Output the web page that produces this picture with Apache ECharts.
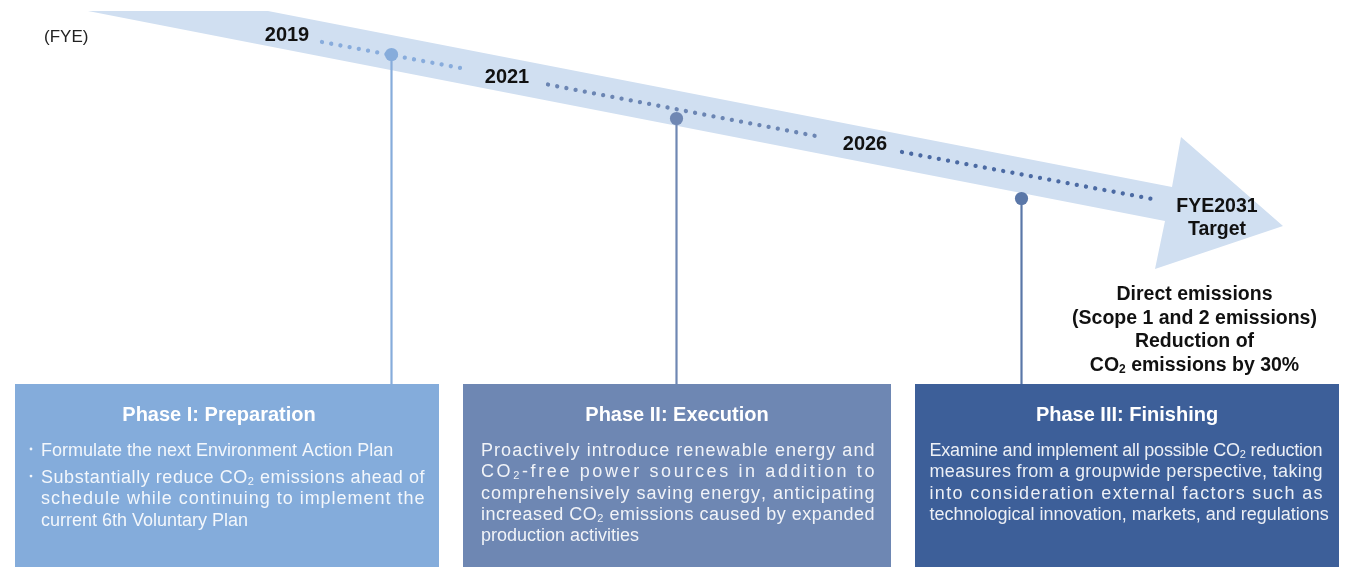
<!DOCTYPE html>
<html>
<head>
<meta charset="utf-8">
<script src="https://cdn.jsdelivr.net/npm/echarts@6/dist/echarts.min.js"></script>
<style>
html,body{margin:0;padding:0;background:#ffffff;}
#chart{width:1346px;height:567px;}
</style>
</head>
<body>
<div id="chart"></div>
<script>
// ---------------- data (texts) ----------------
const fyeLabel = '(FYE)';
const milestoneYears = ['2019', '2021', '2026'];
const targetLabel = ['FYE2031', 'Target'];
const targetNote = ['Direct emissions', '(Scope 1 and 2 emissions)', 'Reduction of', 'CO₂ emissions by 30%'];
const phaseTitles = ['Phase I: Preparation', 'Phase II: Execution', 'Phase III: Finishing'];
// each phase: list of paragraphs, each paragraph a list of lines
const phase1Paragraphs = [
  ['Formulate the next Environment Action Plan'],
  ['Substantially reduce CO₂ emissions ahead of', 'schedule while continuing to implement the', 'current 6th Voluntary Plan']
];
const phase2Paragraphs = [
  ['Proactively introduce renewable energy and', 'CO₂-free power sources in addition to', 'comprehensively saving energy, anticipating', 'increased CO₂ emissions caused by expanded', 'production activities']
];
const phase3Paragraphs = [
  ['Examine and implement all possible CO₂ reduction', 'measures from a groupwide perspective, taking', 'into consideration external factors such as', 'technological innovation, markets, and regulations']
];
const phaseBulleted = [true, false, false];

// ---------------- layout & style ----------------
const W = 1346, H = 567;
const FONT = "'Liberation Sans', Arial, Helvetica, sans-serif";
const layout = {
  arrow: [[88, 11], [268, 11], [1172, 187], [1181, 137], [1283, 226], [1155, 269], [1165, 221]],
  arrowColor: '#d0dff1',
  segments: [[[322, 42], [463, 68.5]], [[548, 84.5], [821, 137]], [[902, 152], [1155, 199.5]]],
  segmentColors: ['#88acdc', '#6b85b3', '#4b6aa3'],
  yearPos: [[287, 35.5], [507, 77.5], [865, 144.5]],
  targetPos: [[1217, 206.5], [1217, 230]],
  notePos: { x: 1194.5, ys: [294.5, 318.5, 342, 366] },
  fyePos: [44, 37],
  markers: [[391.5, 54.5], [676.5, 118.5], [1021.5, 198.5]],
  markerColors: ['#86acdb', '#6f87b3', '#5a77a8'],
  stemBottom: 384,
  boxes: [[15, 384, 424, 200], [463, 384, 428, 200], [915, 384, 424, 200]],
  boxColors: ['#84acdb', '#6e87b3', '#3d5f99'],
  titleCenters: [[219, 415], [677, 415], [1127, 415]],
  bodyLeft: [41, 481, 929.5],
  bodyRight: [424.5, 874.5, 1322.5],
  bodyTop: 451,
  lineH: 21.3,
  paraGap: 5.8,
  bulletX: 31
};

const mctx = document.createElement('canvas').getContext('2d');
function fontStr(size, bold) { return (bold ? 'bold ' : '') + size + 'px ' + FONT; }
function measure(t, f) { mctx.font = f; return mctx.measureText(t).width; }

// one line of text -> graphic elements (handles CO₂ subscript, centering and inter-character justification)
function textLine(api, str, x, y, o) {
  const p = api.coord([x, y]);
  const size = o.size, bold = !!o.bold;
  const mainF = fontStr(size, bold), subF = fontStr(Math.round(size * 0.62), bold);
  const toks = [];
  for (const ch of str) toks.push({ t: ch === '₂' ? '2' : ch, sub: ch === '₂' });
  let runs = [];
  if (o.justify) {
    runs = toks.map(t => ({ t: t.t, sub: t.sub }));
  } else {
    toks.forEach(t => {
      const last = runs[runs.length - 1];
      if (last && last.sub === t.sub) last.t += t.t; else runs.push({ t: t.t, sub: t.sub });
    });
  }
  runs.forEach(r => { r.w = measure(r.t, r.sub ? subF : mainF); });
  const natural = runs.reduce((s, r) => s + r.w, 0);
  let gap = 0;
  if (o.justify && runs.length > 1) {
    const target = api.coord([o.justify, y])[0] - p[0];
    gap = (target - natural) / (runs.length - 1);
  }
  let cx = o.align === 'center' ? p[0] - natural / 2 : p[0];
  const els = [];
  runs.forEach(r => {
    if (r.t.trim() !== '') {
      els.push({
        type: 'text', x: cx, y: p[1] + (r.sub ? size * 0.2 : 0), silent: true,
        style: { text: r.t, font: r.sub ? subF : mainF, fill: o.color,
                 align: 'left', verticalAlign: 'middle', textAlign: 'left', textVerticalAlign: 'middle' }
      });
    }
    cx += r.w + gap;
  });
  return els;
}

const allPhaseParagraphs = [phase1Paragraphs, phase2Paragraphs, phase3Paragraphs];

const chart = echarts.init(document.getElementById('chart'), null, { renderer: 'canvas' });
const option = {
  animation: false,
  tooltip: { show: false },
  grid: { left: 0, right: 0, top: 0, bottom: 0 },
  xAxis: { type: 'value', min: 0, max: W, show: false },
  yAxis: { type: 'value', min: 0, max: H, inverse: true, show: false },
  series: [
    { // arrow band
      type: 'custom', silent: true, data: [[0]], z: 1,
      renderItem: (params, api) => ({
        type: 'polygon',
        shape: { points: layout.arrow.map(pt => api.coord(pt)) },
        style: { fill: layout.arrowColor }
      })
    },
    { // dotted timeline segments following each milestone year
      type: 'custom', silent: true, z: 2,
      data: milestoneYears.map((y, i) => [i]),
      renderItem: (params, api) => {
        const i = params.dataIndex;
        const a = api.coord(layout.segments[i][0]), b = api.coord(layout.segments[i][1]);
        return {
          type: 'line', shape: { x1: a[0], y1: a[1], x2: b[0], y2: b[1] },
          style: { stroke: layout.segmentColors[i], lineWidth: 4.3, lineDash: [0.01, 9.35], lineCap: 'round' }
        };
      }
    },
    { // year labels
      type: 'custom', silent: true, z: 3,
      data: milestoneYears.map((y, i) => [i]),
      renderItem: (params, api) => {
        const i = params.dataIndex;
        const pos = layout.yearPos[i];
        return { type: 'group', children: textLine(api, milestoneYears[i], pos[0], pos[1], { size: 20, bold: true, color: '#111111', align: 'center' }) };
      }
    },
    { // phase stems and markers
      type: 'custom', silent: true, z: 4,
      data: phaseTitles.map((t, i) => [i]),
      renderItem: (params, api) => {
        const i = params.dataIndex;
        const m = api.coord(layout.markers[i]);
        const b = api.coord([layout.markers[i][0], layout.stemBottom]);
        return {
          type: 'group', children: [
            { type: 'line', shape: { x1: m[0], y1: m[1], x2: b[0], y2: b[1] }, style: { stroke: layout.markerColors[i], lineWidth: 2.2 } },
            { type: 'circle', shape: { cx: m[0], cy: m[1], r: 6.6 }, style: { fill: layout.markerColors[i] } }
          ]
        };
      }
    },
    { // phase boxes with text
      type: 'custom', silent: true, z: 5,
      data: phaseTitles.map((t, i) => [i]),
      renderItem: (params, api) => {
        const i = params.dataIndex;
        const bx = layout.boxes[i];
        const p0 = api.coord([bx[0], bx[1]]), p1 = api.coord([bx[0] + bx[2], bx[1] + bx[3]]);
        const children = [{
          type: 'rect', shape: { x: p0[0], y: p0[1], width: p1[0] - p0[0], height: p1[1] - p0[1] },
          style: { fill: layout.boxColors[i] }
        }];
        const tc = layout.titleCenters[i];
        children.push(...textLine(api, phaseTitles[i], tc[0], tc[1], { size: 20, bold: true, color: '#ffffff', align: 'center' }));
        let y = layout.bodyTop;
        allPhaseParagraphs[i].forEach((para, pi) => {
          if (pi > 0) y += layout.paraGap;
          para.forEach((line, li) => {
            if (phaseBulleted[i] && li === 0) {
              const bp = api.coord([layout.bulletX, y]);
              children.push({ type: 'circle', shape: { cx: bp[0], cy: bp[1] - 2, r: 1.4 }, style: { fill: 'rgba(255,255,255,0.9)' } });
            }
            const last = li === para.length - 1;
            children.push(...textLine(api, line, layout.bodyLeft[i], y, {
              size: 18, color: 'rgba(255,255,255,0.9)', justify: last ? 0 : layout.bodyRight[i]
            }));
            y += layout.lineH;
          });
        });
        return { type: 'group', children };
      }
    },
    { // FYE label, target label and note
      type: 'custom', silent: true, z: 6, data: [[0]],
      renderItem: (params, api) => {
        const children = [];
        children.push(...textLine(api, fyeLabel, layout.fyePos[0], layout.fyePos[1], { size: 17, color: '#222222' }));
        targetLabel.forEach((t, i) => {
          const pos = layout.targetPos[i];
          children.push(...textLine(api, t, pos[0], pos[1], { size: 19.5, bold: true, color: '#111111', align: 'center' }));
        });
        targetNote.forEach((t, i) => {
          children.push(...textLine(api, t, layout.notePos.x, layout.notePos.ys[i], { size: 19.5, bold: true, color: '#111111', align: 'center' }));
        });
        return { type: 'group', children };
      }
    }
  ]
};
chart.setOption(option);
</script>
</body>
</html>
